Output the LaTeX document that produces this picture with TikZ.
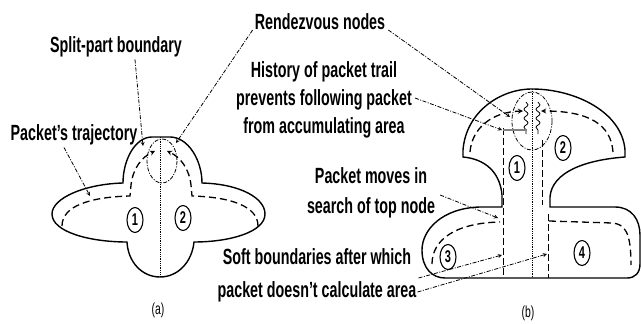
\documentclass[tikz,border=0pt]{standalone}
\usepackage{fontspec}
\setmainfont{Liberation Sans}[FakeStretch=0.65]
\usepackage{tikz}
\usetikzlibrary{shapes.geometric,arrows,decorations.pathmorphing}

\begin{document}
\begin{tikzpicture}[
                x=1pt, y=-1pt, >=stealth,
                lbl/.style={font=\fontsize{22}{28}\selectfont\bfseries,inner sep=0,align=center},
                num/.style={ellipse,draw=black,line width=1.1,minimum width=16,minimum height=25,inner sep=0,font=\fontsize{17}{17}\selectfont\bfseries},
                outline/.style={draw=black,line width=1.4},
                trail/.style={dash pattern=on 7pt off 4pt,line width=1.3},
                soft/.style={dash pattern=on 7pt off 3pt,line width=0.8},
                splitline/.style={densely dotted,line width=0.8},
                meet/.style={dash pattern=on 4pt off 1.5pt on 1pt off 1.5pt,line width=0.8},
                pointer/.style={->,dash pattern=on 4pt off 1.5pt on 1pt off 1.5pt,line width=0.8}
            ]
                \useasboundingbox (0,0) rectangle (641,324);

                \node[lbl] (split) at (116,47) {Split-part boundary};
                \node[lbl] (rdv) at (320,22) {Rendezvous nodes};
                \node[lbl] (hist) at (324,100) {History of packet trail\\prevents following packet\\from accumulating area};
                \node[lbl] (traj) at (74,135) {Packet’s trajectory};
                \node[lbl,font=\fontsize{22}{30}\selectfont\bfseries] (moves) at (371,193) {Packet moves in\\search of top node};
                \node[lbl,font=\fontsize{22}{33}\selectfont\bfseries] (soft) at (317,275) {Soft boundaries after which\\packet doesn’t calculate area};
                \node[font=\fontsize{16}{16}\selectfont] (capa) at (158,310) {(a)};
                \node[font=\fontsize{16}{16}\selectfont] (capb) at (528,313) {(b)};

                % (a)
                \draw[outline] (123,183) .. controls (123,160) and (135,137) .. (152,137) -- (170,137)
                    .. controls (188,137) and (202,160) .. (202,183)
                    .. controls (240,184) and (265,198) .. (265,214)
                    .. controls (265,232) and (230,242) .. (194,242)
                    .. controls (192,262) and (178,277) .. (160,277)
                    .. controls (142,277) and (128,262) .. (127,242)
                    .. controls (90,242) and (52,232) .. (52,214)
                    .. controls (52,198) and (85,184) .. (123,183) -- cycle;
                \draw[splitline] (160,137) -- (160,277);
                \draw[meet] (162,161) ellipse [x radius=15, y radius=22];
                \draw[trail,->] (62,226) .. controls (62,206) and (90,197) .. (130,196) -- (131,185)
                    .. controls (133,168) and (142,157) .. (155,151);
                \draw[trail,->] (258,226) .. controls (258,206) and (230,197) .. (192,196) -- (191,185)
                    .. controls (189,168) and (180,157) .. (167,151);
                \node[num] (a1) at (135,220) {1};
                \node[num] (a2) at (183,218) {2};

                % (b)
                \draw[outline] (502,207) -- (502,195) .. controls (500,172) and (485,159) .. (463,157) -- (463,150)
                    .. controls (466,112) and (500,89) .. (532,89)
                    .. controls (575,89) and (622,112) .. (625,150) -- (625,157)
                    .. controls (585,160) and (552,172) .. (550,197) -- (550,207) -- (615,207)
                    .. controls (632,207) and (640,220) .. (640,235) -- (640,264)
                    .. controls (640,273) and (635,278) .. (627,278) -- (445,278)
                    .. controls (432,278) and (422,268) .. (422,250)
                    .. controls (422,230) and (442,208) .. (480,207) -- cycle;
                \draw[splitline] (532,89) -- (532,278);
                \draw[soft] (503,128) -- (503,278);
                \draw[soft] (542,140) -- (542,205);
                \draw[soft] (548,214) -- (548,278);
                \draw[meet] (532,121) ellipse [x radius=20, y radius=29];
                \foreach \x in {526,538}
                    {
                    \draw[line width=0.8,decorate,decoration={snake,amplitude=2,segment length=9}] (\x,102) -- (\x,134);
                }
                \draw[gray,line width=2.5] (503,130) -- (527,130);
                \draw[trail,->] (470,152) .. controls (472,128) and (492,112) .. (523,111);
                \draw[trail,->] (613,152) .. controls (611,125) and (590,111) .. (541,111);
                \draw[trail] (432,264) .. controls (432,240) and (455,223) .. (500,222);
                \draw[trail] (549,221) -- (612,223) .. controls (625,224) and (631,232) .. (631,265);
                \node[num] (b1) at (517,168) {1};
                \node[num] (b2) at (563,148) {2};
                \node[num] (b3) at (448,257) {3};
                \node[num] (b4) at (582,253) {4};

                \coordinate (trajtip) at (90,196);
                \coordinate (splittip) at (143,146);
                \coordinate (rdvtipa) at (176,143);
                \coordinate (rdvtipb) at (510,117);
                \coordinate (histtip) at (502,130);
                \coordinate (movestip) at (498,218);
                \coordinate (softtipa) at (502,255);
                \coordinate (softtipb) at (547,254);
                \draw[pointer] ([xshift=-10,yshift=-2]traj.south) -- (trajtip);
                \draw[pointer] ([xshift=19,yshift=-2]split.south) -- (splittip);
                \draw[pointer] ([xshift=-2,yshift=-8]rdv.west) -- (rdvtipa);
                \draw[pointer] ([xshift=3,yshift=-8]rdv.east) -- (rdvtipb);
                \draw[pointer] ([xshift=3,yshift=2]hist.east) -- (histtip);
                \draw[pointer] ([xshift=5,yshift=-2]moves.east) -- (movestip);
                \draw[pointer] ([xshift=2,yshift=-3]soft.east) -- (softtipa);
                \draw[pointer] ([xshift=1,yshift=-17]soft.east) -- (softtipb);
            \end{tikzpicture}
\end{document}
